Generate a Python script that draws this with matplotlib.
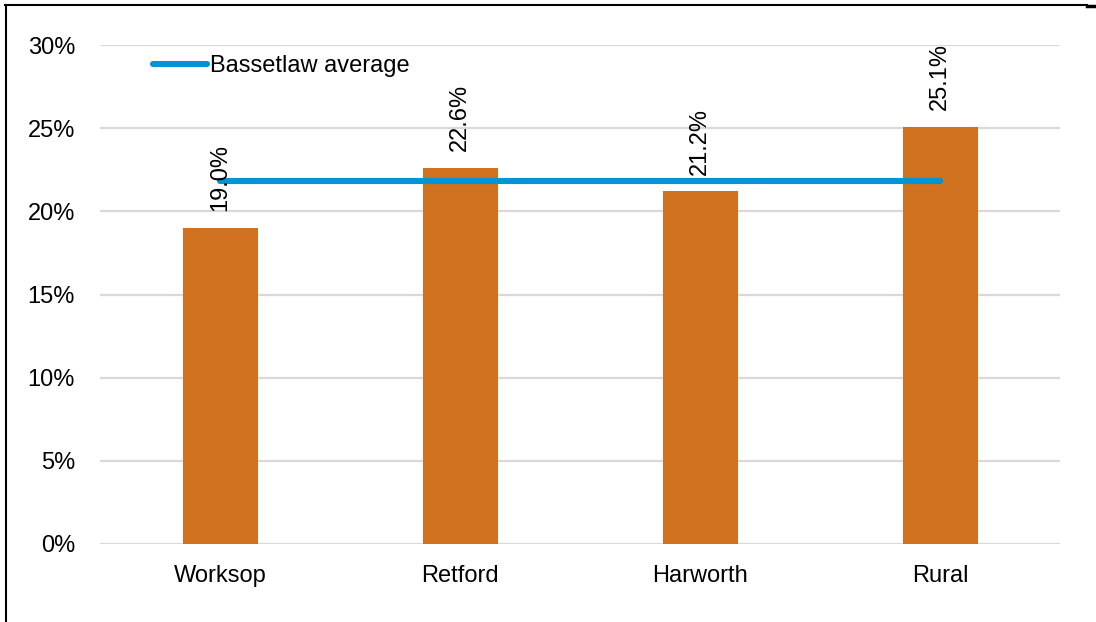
import matplotlib
matplotlib.use("Agg")
import matplotlib.pyplot as plt
from matplotlib.lines import Line2D
from matplotlib.ticker import PercentFormatter

categories = ["Worksop", "Retford", "Harworth", "Rural"]
values = [19.0, 22.6, 21.2, 25.1]
average_value = 21.8
average_label = "Bassetlaw average"
y_ticks = [0, 5, 10, 15, 20, 25, 30]

plt.rcParams['font.family'] = ['Liberation Sans', 'DejaVu Sans']

W, H = 1096, 622
fig = plt.figure(figsize=(W / 100, H / 100), dpi=100)
ax = fig.add_axes([100 / W, 1 - 544 / H, 960 / W, 499 / H])

bar_color = "#D0711F"
line_color = "#0093D6"
fs = 17

x = list(range(len(categories)))
ax.bar(x, values, width=0.3125, color=bar_color, zorder=3)
for xi, v in zip(x, values):
    ax.annotate(f"{v:.1f}%", (xi, v), xytext=(0, 12), textcoords="offset points",
                rotation=90, ha="center", va="bottom", fontsize=fs, color="#000000", zorder=5)

ax.plot([x[0], x[-1]], [average_value, average_value], color=line_color, lw=4.4,
        solid_capstyle="round", zorder=4, label=average_label)

ax.set_xlim(-0.5, len(categories) - 0.5)
ax.set_ylim(0, 30)
ax.set_yticks(y_ticks)
ax.yaxis.set_major_formatter(PercentFormatter(decimals=0))
ax.set_xticks(x)
ax.set_xticklabels(categories)
ax.tick_params(axis="both", length=0, labelsize=fs, colors="#000000")
ax.tick_params(axis="y", pad=18)
ax.tick_params(axis="x", pad=15)
ax.grid(axis="y", color="#d9d9d9", lw=1.6, zorder=0)
for s in ax.spines.values():
    s.set_visible(False)

leg = ax.legend(loc="upper left", bbox_to_anchor=(0.045, 0.998), frameon=False,
                fontsize=fs, handlelength=2.3, handletextpad=0.12, borderaxespad=0)

# outer border lines
fig.add_artist(Line2D([5 / W, 1087 / W], [1 - 5 / H, 1 - 5 / H], color="black", lw=1.5))
fig.add_artist(Line2D([6 / W, 6 / W], [0, 1 - 5 / H], color="black", lw=1.5))
fig.add_artist(Line2D([1087 / W, 1096 / W], [1 - 5.5 / H, 1 - 5.5 / H], color="black", lw=2.5))

fig.savefig("out.png", dpi=100)
